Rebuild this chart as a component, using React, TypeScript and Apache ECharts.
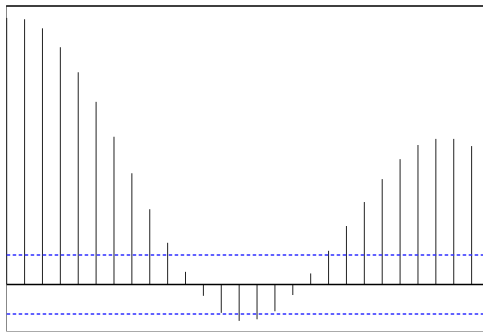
import React, { useEffect, useRef } from "react";
import * as echarts from "echarts";

const lags = [0,1,2,3,4,5,6,7,8,9,10,11,12,13,14,15,16,17,18,19,20,21,22,23,24,25,26];
const acfValues = [
  1.0, 0.995, 0.961, 0.89, 0.796, 0.685, 0.554, 0.417, 0.282, 0.156, 0.047,
  -0.043, -0.107, -0.137, -0.131, -0.101, -0.04,
  0.041, 0.126, 0.219, 0.309, 0.395, 0.47, 0.523, 0.546, 0.546, 0.519,
];
const confidenceBound = 0.107;
const yRange = [-0.175, 1.044];
const xRange = [0, 27];

export default function App() {
  const ref = useRef<HTMLDivElement>(null);
  useEffect(() => {
    if (!ref.current) return;
    const chart = echarts.init(ref.current, null, { renderer: "svg" });
    const data = lags.map((l, i) => [l, acfValues[i]]);
    chart.setOption({
      animation: false,
      backgroundColor: "#fff",
      grid: {
        left: 6.7,
        top: 6.2,
        width: 482.8,
        height: 324.8,
        outerBoundsMode: "none",
        containLabel: false,
      },
      xAxis: [
        {
          type: "value",
          min: xRange[0],
          max: xRange[1],
          position: "bottom",
          axisLine: { show: true, onZero: false, lineStyle: { color: "#aaa", width: 1 } },
          axisTick: { show: false },
          axisLabel: { show: false },
          splitLine: { show: false },
        },
        {
          type: "value",
          min: xRange[0],
          max: xRange[1],
          position: "top",
          axisLine: { show: true, onZero: false, lineStyle: { color: "#000", width: 1.5 } },
          axisTick: { show: false },
          axisLabel: { show: false },
          splitLine: { show: false },
        },
      ],
      yAxis: {
        type: "value",
        min: yRange[0],
        max: yRange[1],
        axisLine: { show: true, onZero: false, lineStyle: { color: "#888", width: 1 } },
        axisTick: { show: false },
        axisLabel: { show: false },
        splitLine: { show: false },
      },
      series: [
        {
          type: "custom",
          data,
          renderItem: (params: any, api: any) => {
            const x = api.value(0);
            const y = api.value(1);
            const p0 = api.coord([x, 0]);
            const p1 = api.coord([x, y]);
            return {
              type: "line",
              shape: { x1: p0[0], y1: p0[1], x2: p1[0], y2: p1[1] },
              style: { stroke: "#222", lineWidth: 1 },
            };
          },
          markLine: {
            silent: true,
            symbol: "none",
            label: { show: false },
            data: [
              { yAxis: 0, lineStyle: { color: "#000", width: 1.3, type: "solid" } },
              { yAxis: confidenceBound, lineStyle: { color: "#2f2fff", width: 1.6, type: [3.5, 2.5] } },
              { yAxis: -confidenceBound, lineStyle: { color: "#2f2fff", width: 1.6, type: [3.5, 2.5] } },
            ],
          },
        },
      ],
    });
    return () => chart.dispose();
  }, []);
  return (
    <div
      ref={ref}
      style={{ position: "fixed", left: 0, top: 0, width: 483, height: 332 }}
    />
  );
}
